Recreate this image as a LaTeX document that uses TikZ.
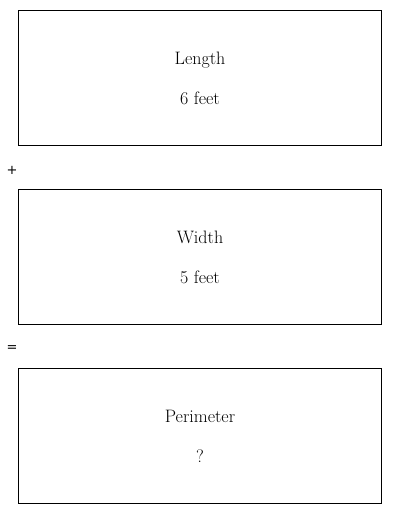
\documentclass[tikz,border=0pt]{standalone}
\usepackage{fontspec}
\newfontfamily\symfont{DejaVu Sans}
\begin{document}
\begin{tikzpicture}[x=1pt,y=-1pt,
  box/.style={draw=black,line width=1pt},
  lbl/.style={anchor=base,inner sep=0pt,font=\fontsize{18}{21}\selectfont},
  op/.style={inner sep=0pt,font=\symfont\fontsize{13}{15}\selectfont}]
\useasboundingbox (0,0) rectangle (400,514);
\draw[box] (18.5,10.5) rectangle (381.5,145.5);
\node[lbl] (l1) at (200,64.5) {Length};
\node[lbl] (v1) at (200,104.5) {6 feet};
\node[op] (plus) at (12,170) {+};
\draw[box] (18.5,189.5) rectangle (381.5,324.5);
\node[lbl] (l2) at (200,243.5) {Width};
\node[lbl] (v2) at (200,283.5) {5 feet};
\node[op] (eq) at (12,349) {=};
\draw[box] (18.5,368.5) rectangle (381.5,503.5);
\node[lbl] (l3) at (200,422.5) {Perimeter};
\node[lbl] (v3) at (200,462.5) {?};
\end{tikzpicture}
\end{document}
